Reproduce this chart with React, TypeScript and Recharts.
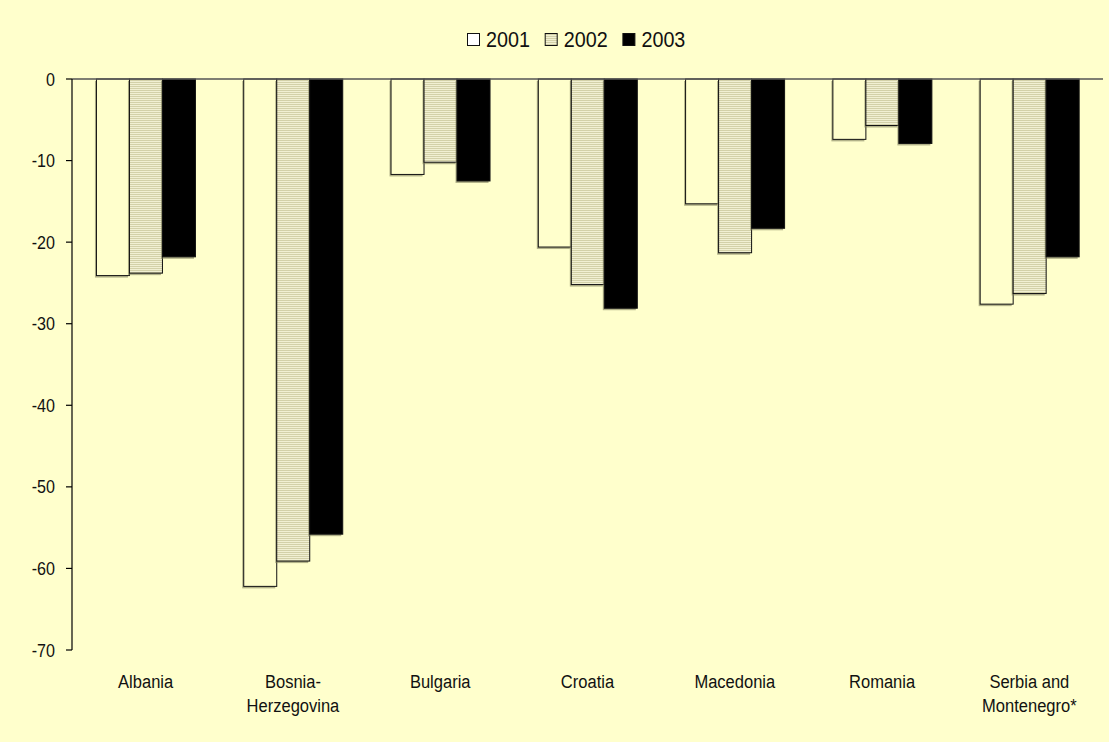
import { BarChart, Bar, XAxis, YAxis, ReferenceLine } from "recharts";

const countries = [
  "Albania",
  "Bosnia-\nHerzegovina",
  "Bulgaria",
  "Croatia",
  "Macedonia",
  "Romania",
  "Serbia and\nMontenegro*",
];
const years = ["2001", "2002", "2003"];
const values2001 = [-24.1, -62.2, -11.7, -20.6, -15.3, -7.4, -27.6];
const values2002 = [-23.8, -59.1, -10.2, -25.2, -21.3, -5.7, -26.3];
const values2003 = [-21.8, -55.8, -12.5, -28.1, -18.3, -7.9, -21.8];
const yTicks = [-70, -60, -50, -40, -30, -20, -10, 0];

const BG = "#FFFFCC";
const FONT = "'Liberation Sans', Arial, sans-serif";
const fills = [BG, "url(#hstripes)", "#000000"];

const data = countries.map((name, i) => ({
  name,
  [years[0]]: values2001[i],
  [years[1]]: values2002[i],
  [years[2]]: values2003[i],
}));

// bar with a thin offset shadow on the left/bottom
function ShadowBar(props: any) {
  const { x, y, width, height, fill } = props;
  const top = Math.min(y, y + height);
  const h = Math.abs(height);
  return (
    <g>
      <rect x={x - 1.5} y={top + 2} width={width} height={h} fill="#7f7f5c" opacity={0.6} />
      <rect x={x} y={top} width={width} height={h} fill={fill} stroke="#111" strokeWidth={1} />
    </g>
  );
}

function CategoryTick({ x, y, payload }: any) {
  const lines = String(payload.value).split("\n");
  return (
    <text
      transform={`translate(${x},${y}) scale(0.87,1)`}
      textAnchor="middle"
      fontFamily={FONT}
      fontSize={19}
      fill="#111"
    >
      {lines.map((line, i) => (
        <tspan key={i} x={0} y={38 + i * 24}>
          {line}
        </tspan>
      ))}
    </text>
  );
}

function ValueTick({ x, y, payload }: any) {
  return (
    <text
      transform={`translate(${x},${y + 6.5}) scale(0.87,1)`}
      textAnchor="end"
      fontFamily={FONT}
      fontSize={18.5}
      fill="#111"
    >
      {payload.value}
    </text>
  );
}

function YearLegend() {
  return (
    <svg width={1109} height={60} style={{ position: "absolute", left: 0, top: 0 }}>
      {years.map((yr, i) => {
        const x0 = 467 + i * 77.7;
        return (
          <g key={yr}>
            <rect x={x0 + 0.5} y={33.5} width={12} height={12} fill={i === 0 ? "#ffffff" : fills[i]} stroke="#111" />
            <text
              transform={`translate(${x0 + 19},${46.7}) scale(0.92,1)`}
              fontFamily={FONT}
              fontSize={21.5}
              fill="#111"
            >
              {yr}
            </text>
          </g>
        );
      })}
    </svg>
  );
}

export default function App() {
  return (
    <div
      style={{
        position: "absolute",
        left: 0,
        top: 0,
        width: 1109,
        height: 742,
        background: BG,
      }}
    >
      <svg width={0} height={0} style={{ position: "absolute" }}>
        <defs>
          <pattern id="hstripes" patternUnits="userSpaceOnUse" width={4} height={2}>
            <rect width={4} height={2} fill="#F1F0D2" />
            <rect width={4} height={1} fill="#D3D1A8" />
          </pattern>
        </defs>
      </svg>
      <YearLegend />
      <BarChart
        width={1109}
        height={742}
        data={data}
        margin={{ top: 79, right: 6, bottom: 62, left: 0 }}
        barCategoryGap="16.6%"
        barGap={0}
      >
        <XAxis
          dataKey="name"
          axisLine={false}
          tickLine={false}
          tickSize={0}
          tickMargin={0}
          height={30}
          interval={0}
          tick={CategoryTick}
        />
        <YAxis
          type="number"
          domain={[-70, 0]}
          ticks={yTicks}
          width={72}
          axisLine={{ stroke: "#000", strokeWidth: 1.2 }}
          tickLine={{ stroke: "#000", strokeWidth: 1.2 }}
          tickSize={6}
          tickMargin={11}
          tick={ValueTick}
        />
        {years.map((yr, i) => (
          <Bar key={yr} dataKey={yr} fill={fills[i]} shape={ShadowBar} isAnimationActive={false} />
        ))}
        <ReferenceLine y={0} stroke="#555" strokeWidth={1.6} />
      </BarChart>
    </div>
  );
}
